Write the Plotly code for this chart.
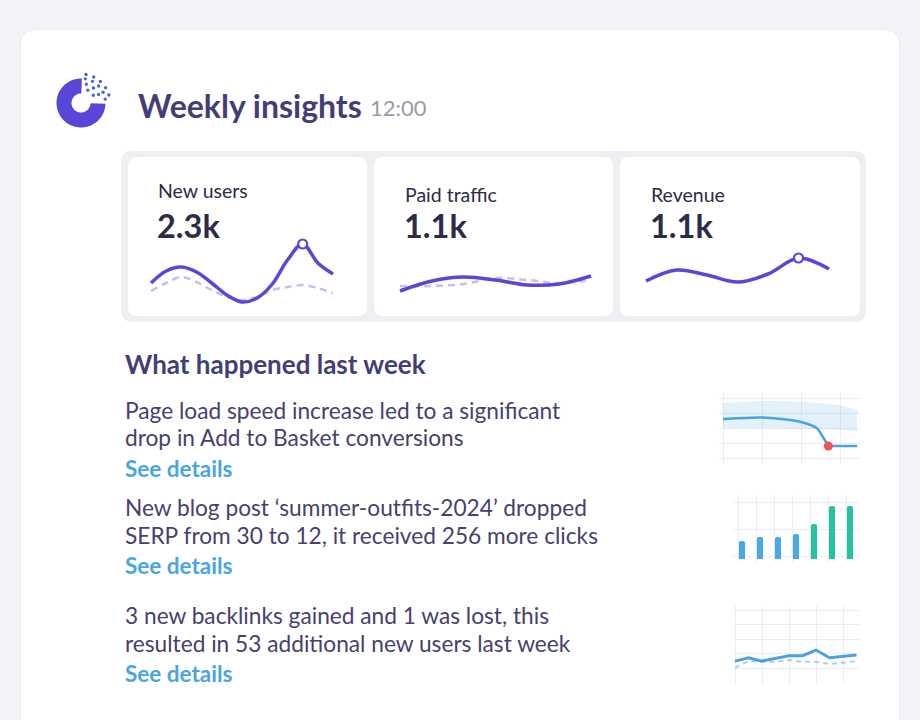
import math
import plotly.graph_objects as go

W, H = 920, 720

# ---------------- data ----------------
title_text = "Weekly insights"
time_text = "12:00"
kpi_labels = ["New users", "Paid traffic", "Revenue"]
kpi_values = ["2.3k", "1.1k", "1.1k"]

nu_x = [0, 0.5, 1, 1.5, 2, 2.5, 3, 3.5, 4, 4.5, 5, 5.5, 6]
new_users_current = [27, 39, 43, 38, 27, 15, 8, 12, 26, 50, 66, 47, 36]
new_users_previous = [19, 27, 33, 28, 20, 13, 10, 13, 20, 23, 25, 22, 17]
spark_x = [0, 1, 2, 3, 4, 5, 6]
paid_current = [19, 29, 33, 30, 25, 26, 34]
paid_previous = [24, 24, 26, 32, 30, 27, 30]
revenue_current = [29, 40, 35, 28, 36, 52, 41]
highlight_x = [5, None, 5]

section_title = "What happened last week"
insight_lines = [
    ["Page load speed increase led to a significant", "drop in Add to Basket conversions"],
    ["New blog post \u2018summer-outfits-2024\u2019 dropped", "SERP from 30 to 12, it received 256 more clicks"],
    ["3 new backlinks gained and 1 was lost, this", "resulted in 53 additional new users last week"],
]
link_text = "See details"

# mini chart 1: conversions with expected band
conv_x = [0, 1, 1.5, 2, 2.4, 2.55, 2.7]
conv_y = [2.6, 2.7, 2.6, 2.4, 2.0, 1.45, 0.8]
conv_after_x = [2.7, 3.44]
conv_after_y = [0.8, 0.8]
band_x = [0, 1, 2, 3, 3.44]
band_upper = [3.65, 3.8, 3.75, 3.5, 3.2]
band_lower = [1.98, 1.98, 1.95, 1.87, 1.76]

# mini chart 2: clicks per day
click_days = [0, 1, 2, 3, 4, 5, 6]
click_values = [18, 22, 22, 25, 35, 53, 53]
click_is_after = [False, False, False, False, True, True, True]

# mini chart 3: new users vs previous
users_x = [0, 0.5, 1, 1.5, 2, 2.5, 3, 3.5, 4, 4.5]
users_current = [1.48, 1.71, 1.48, 1.67, 1.85, 1.85, 2.24, 1.71, 1.78, 1.90]
users_previous = [1.02, 1.48, 1.43, 1.43, 1.55, 1.43, 1.43, 1.28, 1.37, 1.48]

# ---------------- style ----------------
FONT = "Lato"
BG = "#f3f2f7"
PURPLE = "#5a47d6"
PURPLE_LIGHT = "#c6bff0"
TITLE_C = "#443e76"
LABEL_C = "#2d2b45"
BODY_C = "#46416f"
LINK_C = "#4aa6de"
TIME_C = "#9c9aab"
BLUE = "#4aa3de"
BLUE_LIGHT = "#a6d2f1"
TEAL = "#27c3a1"
RED = "#f0525a"
GRID = "#ececf2"


def P(x, y):
    return f"{x / W:.5f},{1 - y / H:.5f}"


def rrect(x0, y0, x1, y1, r):
    return (f"M{P(x0 + r, y0)} L{P(x1 - r, y0)} Q{P(x1, y0)} {P(x1, y0 + r)} "
            f"L{P(x1, y1 - r)} Q{P(x1, y1)} {P(x1 - r, y1)} L{P(x0 + r, y1)} "
            f"Q{P(x0, y1)} {P(x0, y1 - r)} L{P(x0, y0 + r)} Q{P(x0, y0)} {P(x0 + r, y0)} Z")


fig = go.Figure()
shapes = []
annotations = []

# backgrounds
shapes.append(dict(type="path", path=rrect(20, 29, 900, 761, 17), xref="paper", yref="paper",
                   fillcolor="#ecebf2", line=dict(width=0), layer="below"))
shapes.append(dict(type="path", path=rrect(21, 30, 899, 760, 16), xref="paper", yref="paper",
                   fillcolor="white", line=dict(width=0), layer="below"))
shapes.append(dict(type="path", path=rrect(121, 151, 866, 322, 12), xref="paper", yref="paper",
                   fillcolor="#eeeef3", line=dict(width=0), layer="below"))
for cx0, cx1 in [(128, 367), (374, 613), (620, 860)]:
    shapes.append(dict(type="path", path=rrect(cx0, 157, cx1, 316, 9), xref="paper", yref="paper",
                       fillcolor="white", line=dict(width=0), layer="below"))

# logo: thick arc + fan of dots
lcx, lcy, r_out, r_in = 81, 103, 24.5, 9.5
a0, a1 = 88, -2 + 360
pts_out = []
pts_in = []
n = 60
for i in range(n + 1):
    a = math.radians(a0 + (a1 - a0) * i / n)
    pts_out.append((lcx + r_out * math.cos(a), lcy - r_out * math.sin(a)))
    pts_in.append((lcx + r_in * math.cos(a), lcy - r_in * math.sin(a)))
path = "M" + " L".join(P(*p) for p in pts_out) + " L" + " L".join(P(*p) for p in reversed(pts_in)) + " Z"
shapes.append(dict(type="path", path=path, xref="paper", yref="paper", fillcolor="#5846d8",
                   line=dict(width=0)))
fan = [(14.5, [62, 32]), (19.5, [74, 50, 26]), (24.5, [80, 62, 44, 26, 9]), (29, [80, 64, 48, 32, 16])]
for rad, angs in fan:
    for ang in angs:
        dx = lcx + rad * math.cos(math.radians(ang))
        dy = lcy - rad * math.sin(math.radians(ang))
        rr = 1.7
        shapes.append(dict(type="circle", xref="paper", yref="paper",
                           x0=(dx - rr) / W, x1=(dx + rr) / W, y0=1 - (dy + rr) / H, y1=1 - (dy - rr) / H,
                           fillcolor="#4c64dc", line=dict(width=0)))


def text(x, y, s, size, color, bold=False):
    annotations.append(dict(x=x / W, y=1 - y / H, xref="paper", yref="paper", text=s,
                            showarrow=False, xanchor="left", yanchor="middle",
                            font=dict(family=FONT, size=size, color=color,
                                      weight=700 if bold else 400)))


text(136, 105, title_text, 32, TITLE_C, True)
text(368, 107, time_text, 22, TIME_C)
label_y = [191, 195, 195]
for i, (lx) in enumerate([156, 403, 649]):
    text(lx, label_y[i], kpi_labels[i], 19.5, LABEL_C)
    text(lx - 1, 225, kpi_values[i], 32.5, LABEL_C, True)

text(123, 364, section_title, 26, TITLE_C, True)
block_tops = [410, 507, 615]
for i, lines in enumerate(insight_lines):
    y = block_tops[i]
    text(123, y, lines[0], 22.7, BODY_C)
    text(123, y + 28, lines[1], 22.7, BODY_C)
    text(123, y + 58, link_text, 22.5, LINK_C, True)


# ---------------- axes ----------------
def add_axes(k, x0, x1, y0, y1, xr, yr, xgrid=None, ygrid=None):
    xa = dict(domain=[x0 / W, x1 / W], range=xr, anchor=f"y{k}", showticklabels=False, ticks="",
              showline=False, zeroline=False, fixedrange=True,
              showgrid=xgrid is not None, gridcolor=GRID, gridwidth=1)
    ya = dict(domain=[1 - y1 / H, 1 - y0 / H], range=yr, anchor=f"x{k}", showticklabels=False, ticks="",
              showline=False, zeroline=False, fixedrange=True,
              showgrid=ygrid is not None, gridcolor=GRID, gridwidth=1)
    if xgrid is not None:
        xa["tickvals"] = xgrid
    if ygrid is not None:
        ya["tickvals"] = ygrid
    fig.layout[f"xaxis{k}"] = xa
    fig.layout[f"yaxis{k}"] = ya


# KPI sparklines (x = 0..6 maps to the given pixel span, y value v maps to 310 - v px)
spans = [(151, 333), (400, 591), (646, 829)]
series_x = [nu_x, spark_x, spark_x]
series_cur = [new_users_current, paid_current, revenue_current]
series_prev = [new_users_previous, paid_previous, None]
for i, (sx0, sx1) in enumerate(spans):
    k = i + 2
    unit = (sx1 - sx0) / 6
    add_axes(k, sx0 - 0.25 * unit, sx1 + 0.25 * unit, 230, 310, [-0.25, 6.25], [0, 80])
    xs = series_x[i]
    if series_prev[i] is not None:
        fig.add_trace(go.Scatter(x=xs, y=series_prev[i], mode="lines", xaxis=f"x{k}", yaxis=f"y{k}",
                                 line=dict(shape="spline", color=PURPLE_LIGHT, width=2.5, dash="7px,5px"),
                                 hoverinfo="skip"))
    fig.add_trace(go.Scatter(x=xs, y=series_cur[i], mode="lines", xaxis=f"x{k}", yaxis=f"y{k}",
                             line=dict(shape="spline", color=PURPLE, width=3.5), hoverinfo="skip"))
    hx = highlight_x[i]
    if hx is not None:
        hy = series_cur[i][xs.index(hx)]
        fig.add_trace(go.Scatter(x=[hx], y=[hy], mode="markers",
                                 xaxis=f"x{k}", yaxis=f"y{k}", cliponaxis=False,
                                 marker=dict(size=9, color="white", line=dict(color=PURPLE, width=2.2)),
                                 hoverinfo="skip"))

# mini chart 1 (x unit 39px from 723, y unit 15px from 458)
add_axes(5, 723 - 0.1 * 39, 723 + 3.5 * 39, 392, 464, [-0.1, 3.5], [-0.4, 4.4],
         xgrid=[0, 1, 2, 3], ygrid=[0, 1, 2, 3, 4])
fig.add_trace(go.Scatter(x=band_x, y=band_upper, mode="lines", xaxis="x5", yaxis="y5",
                         line=dict(width=0, shape="spline"), hoverinfo="skip"))
fig.add_trace(go.Scatter(x=band_x, y=band_lower, mode="lines", xaxis="x5", yaxis="y5", fill="tonexty",
                         fillcolor="rgba(90,170,228,0.17)", line=dict(width=0, shape="spline"),
                         hoverinfo="skip"))
fig.add_trace(go.Scatter(x=conv_x, y=conv_y, mode="lines", xaxis="x5", yaxis="y5",
                         line=dict(color=BLUE, width=2.5, shape="spline", smoothing=0.8), hoverinfo="skip"))
fig.add_trace(go.Scatter(x=conv_after_x, y=conv_after_y, mode="lines", xaxis="x5", yaxis="y5",
                         line=dict(color=BLUE, width=2.5), hoverinfo="skip"))
fig.add_trace(go.Scatter(x=[conv_x[-1]], y=[conv_y[-1]], mode="markers", xaxis="x5", yaxis="y5",
                         cliponaxis=False, marker=dict(size=9, color=RED), hoverinfo="skip"))

# mini chart 2 (18px per day centred at 742, 1px per unit with 0 at 559)
add_axes(6, 733, 859, 495, 562, [-0.5, 6.5], [-3, 64],
         xgrid=[d - 0.22 for d in click_days], ygrid=[3, 30, 57])
fig.add_trace(go.Bar(x=click_days, y=click_values, xaxis="x6", yaxis="y6", width=0.34,
                     marker=dict(color=[TEAL if a else "#4aa8e3" for a in click_is_after], line=dict(width=0)),
                     hoverinfo="skip"))

# mini chart 3 (x unit 27px from 735, y unit 14.5px from 682.5)
add_axes(7, 735 - 0.05 * 27, 735 + 4.6 * 27, 606, 684, [-0.05, 4.6], [-0.1, 5.28],
         xgrid=[0, 1, 2, 3, 4], ygrid=[1, 2, 3, 4, 5])
fig.add_trace(go.Scatter(x=users_x, y=users_previous, mode="lines", xaxis="x7", yaxis="y7",
                         line=dict(color=BLUE_LIGHT, width=2, dash="5px,4px"), hoverinfo="skip"))
fig.add_trace(go.Scatter(x=users_x, y=users_current, mode="lines", xaxis="x7", yaxis="y7",
                         line=dict(color=BLUE, width=3), hoverinfo="skip"))

fig.update_layout(
    width=W, height=H, margin=dict(l=0, r=0, t=0, b=0),
    paper_bgcolor=BG, plot_bgcolor="rgba(0,0,0,0)", showlegend=False,
    shapes=shapes, annotations=annotations, barcornerradius=2,
    xaxis=dict(visible=False), yaxis=dict(visible=False),
)
fig.write_html("out.html", config={"displayModeBar": False},
               post_script="document.body.style.margin='0px';document.body.style.background='" + BG + "';")
